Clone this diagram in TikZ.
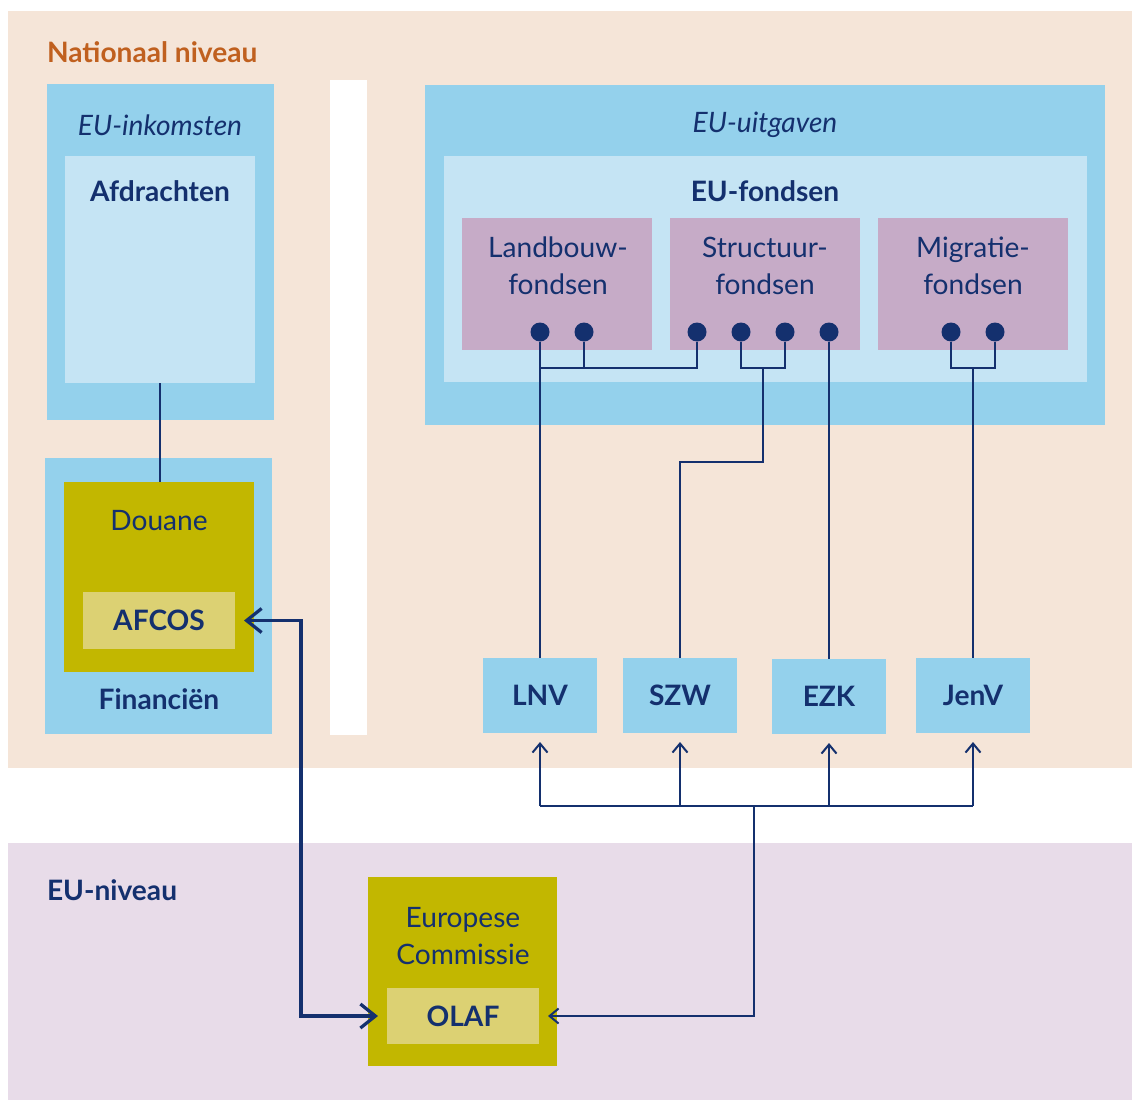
\documentclass[tikz,border=0pt]{standalone}
\usepackage{fontspec}
\setmainfont{Lato}
\usetikzlibrary{arrows.meta}
\definecolor{navy}{HTML}{14306E}
\definecolor{oranje}{HTML}{C0601F}
\definecolor{perzik}{HTML}{F5E5D8}
\definecolor{lila}{HTML}{E8DCE9}
\definecolor{blauw}{HTML}{94D1EC}
\definecolor{lichtblauw}{HTML}{C5E4F4}
\definecolor{mauve}{HTML}{C6ABC7}
\definecolor{olijf}{HTML}{C2B700}
\definecolor{lichtolijf}{HTML}{DCD173}
\begin{document}
\begin{tikzpicture}
[x=0.2mm,y=-0.2mm,%
  every node/.style={inner sep=0pt,outer sep=0pt,text=navy,
    font=\fontsize{16}{21}\selectfont},
  box/.style={fill=#1,anchor=north west},
  rect/.style args={#1x#2}{minimum width=#1*0.2mm,minimum height=#2*0.2mm},
  dot/.style={circle,fill=navy,minimum size=3.8mm},
  link/.style={draw=navy,line width=0.4mm},
  thicklink/.style={draw=navy,line width=0.65mm},
  >={Straight Barb[length=1.8mm,width=3mm]}]
\useasboundingbox (0,0) rectangle (1132,1100);
% achtergrond
\fill[perzik] (8,11) rectangle (1132,768);
\fill[lila] (8,843) rectangle (1132,1100);
\node[anchor=west,text=oranje,font=\fontsize{16}{21}\selectfont\bfseries]
  (nationaal) at (47,52) {Nationaal niveau};
\node[anchor=west,font=\fontsize{16}{21}\selectfont\bfseries]
  (euniveau) at (47,890) {EU-niveau};
% inkomsten
\node[box=blauw,rect=227x336] (inkomsten) at (47,84) {};
\node[box=lichtblauw,rect=190x227] (afdrachten) at (65,156) {};
\node (tinkomsten) at (160,125) {\itshape EU-inkomsten};
\node (tafdrachten) at (160,191) {\bfseries Afdrachten};
\node[box=white,rect=37x655] (scheiding) at (330,80) {};
% financien
\node[box=blauw,rect=227x276] (financien) at (45,458) {};
\node[box=olijf,rect=190x190] (douane) at (64,482) {};
\node[box=lichtolijf,rect=152x57] (afcos) at (83,592) {\bfseries AFCOS};
\node (tdouane) at (159,521) {Douane};
\node (tfinancien) at (159,699) {\bfseries Financiën};
% uitgaven
\node[box=blauw,rect=680x340] (uitgaven) at (425,85) {};
\node[box=lichtblauw,rect=643x226] (fondsen) at (444,156) {};
\node (tuitgaven) at (765,125) {\itshape EU-uitgaven};
\node (tfondsen) at (765,191) {\bfseries EU-fondsen};
\node[box=mauve,rect=190x132] (landbouw) at (462,218) {};
\node[box=mauve,rect=190x132] (structuur) at (670,218) {};
\node[box=mauve,rect=190x132] (migratie) at (878,218) {};
\node[align=center] (tlandbouw) at (558,266) {Landbouw-\\fondsen};
\node[align=center] (tstructuur) at (765,266) {Structuur-\\fondsen};
\node[align=center] (tmigratie) at (973,266) {Migratie-\\fondsen};
\node[dot] (lb1) at (540,332) {};
\node[dot] (lb2) at (584,332) {};
\node[dot] (st1) at (697,332) {};
\node[dot] (st2) at (741,332) {};
\node[dot] (st3) at (785,332) {};
\node[dot] (st4) at (829,332) {};
\node[dot] (mg1) at (951,332) {};
\node[dot] (mg2) at (995,332) {};
% ministeries
\node[box=blauw,rect=114x75] (lnv) at (483,658) {\bfseries LNV};
\node[box=blauw,rect=114x75] (szw) at (623,658) {\bfseries SZW};
\node[box=blauw,rect=114x75] (ezk) at (772,659) {\bfseries EZK};
\node[box=blauw,rect=114x75] (jenv) at (916,658) {\bfseries JenV};
% eu
\node[box=olijf,rect=189x189] (commissie) at (368,877) {};
\node[align=center] (tcommissie) at (463,936) {Europese\\Commissie};
\node[box=lichtolijf,rect=152x56] (olaf) at (387,988) {\bfseries OLAF};
% verbindingen
\coordinate (j1) at (540,368);
\coordinate (j2) at (763,368);
\coordinate (k2) at (763,462);
\coordinate (j3) at (973,368);
\coordinate (bus) at (754,806);
\coordinate (links) at (301,806);
\draw[link] (afdrachten.south) -- (afdrachten.south |- douane.north);
\draw[link] (lb1) -- (lb1 |- lnv.north);
\draw[link] (lb2) -- (lb2 |- j1);
\draw[link] (st1) |- (j1);
\draw[link] (st2) |- (j2) -| (st3);
\draw[link] (j2) -- (k2) -| (szw.north);
\draw[link] (st4) -- (st4 |- ezk.north);
\draw[link] (mg1) |- (j3) -| (mg2);
\draw[link] (j3) -- (jenv.north);
\draw[link] (lnv.south |- bus) -- (jenv.south |- bus);
\foreach \m in {lnv,szw,ezk,jenv}
  \draw[link,->,shorten >=1.8mm] (\m.south |- bus) -- (\m.south);
\draw[link,->,shorten >=1.8mm] (bus) |- (olaf.east);
\draw[thicklink,<->,>={Straight Barb[length=3mm,width=4.8mm]},
  shorten >=1.8mm,shorten <=1.8mm] (afcos.east) -| (links) |- (olaf.west);
\end{tikzpicture}
\end{document}
